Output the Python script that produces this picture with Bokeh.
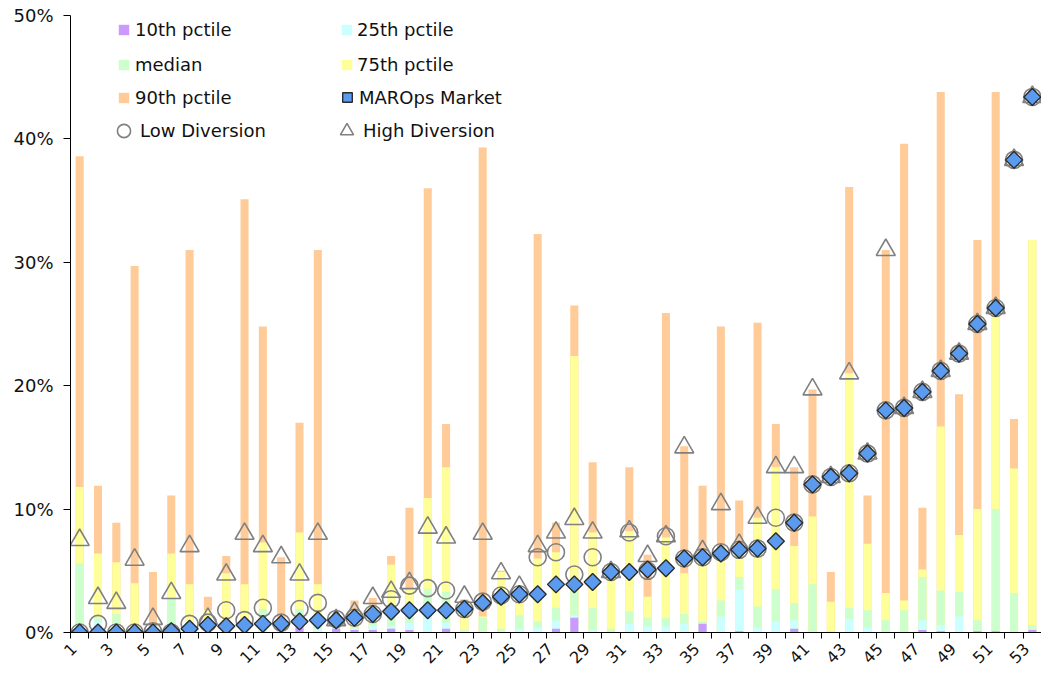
import math
from bokeh.plotting import figure
from bokeh.models import (Range1d, FixedTicker, PrintfTickFormatter, Legend,
                          LegendItem, ColumnDataSource)
from bokeh.embed import file_html
from bokeh.resources import INLINE

# ---------------- data (percent) ----------------
categories = list(range(1, 54))

p90 = [38.6, 11.9, 8.9, 29.7, 4.9, 11.1, 31.0, 2.9, 6.2, 35.1,
       24.8, 6.1, 17.0, 31.0, 0.8, 2.6, 2.8, 6.2, 10.1, 36.0,
       16.9, 2.7, 39.3, 5.0, 3.5, 32.3, 8.9, 26.5, 13.8, 5.0,
       13.4, 6.3, 25.9, 15.1, 11.9, 24.8, 10.7, 25.1, 16.9, 13.4,
       19.7, 4.9, 36.1, 11.1, 31.0, 39.6, 10.1, 43.8, 19.3, 31.8,
       43.8, 17.3, 31.8]

p75 = [11.8, 6.4, 5.7, 4.0, 0.5, 6.4, 3.9, 1.8, 4.8, 3.9,
       7.3, 0.8, 8.1, 3.9, 0.6, 1.0, 2.2, 5.5, 3.6, 10.9,
       13.4, 2.1, 1.3, 4.9, 3.2, 6.0, 6.5, 22.4, 8.1, 4.7,
       8.2, 2.9, 7.7, 4.8, 6.0, 6.0, 6.2, 9.3, 13.4, 7.0,
       9.4, 2.5, 21.0, 7.2, 3.2, 2.6, 5.1, 16.7, 7.9, 10.0,
       25.8, 13.3, 31.8]

median = [5.6, 1.2, 1.5, 0.3, 0.2, 2.7, 0.5, 0.3, 0.5, 0.5,
          1.9, 0.3, 1.9, 1.5, 0.4, 0.5, 1.0, 1.8, 2.0, 3.5,
          3.3, 0.2, 1.2, 0.3, 1.4, 0.9, 2.0, 4.5, 2.0, 0.3,
          1.7, 1.2, 1.2, 1.5, 0.9, 2.6, 4.5, 2.1, 3.5, 2.4,
          3.9, 0.1, 2.0, 1.8, 1.0, 1.8, 4.5, 3.4, 3.3, 1.0,
          10.0, 3.2, 0.6]

p25 = [0.3, 0.9, 0.8, 0.0, 0.0, 0.2, 0.2, 0.1, 0.1, 0.1,
       0.4, 0.1, 0.6, 0.3, 0.35, 0.3, 0.6, 0.5, 0.8, 1.9,
       0.8, 0.1, 0.1, 0.1, 0.3, 0.4, 1.0, 1.4, 0.2, 0.0,
       0.7, 0.5, 0.5, 0.7, 0.8, 1.3, 3.5, 0.4, 0.9, 1.0,
       0.1, 0.0, 1.1, 0.4, 0.0, 0.0, 1.0, 0.6, 1.3, 0.1,
       0.1, 0.0, 0.2]

p10 = [0.0, 0.5, 0.0, 0.0, 0.0, 0.0, 0.0, 0.0, 0.0, 0.0,
       0.0, 0.0, 0.4, 0.0, 0.3, 0.2, 0.2, 0.3, 0.2, 0.0,
       0.3, 0.0, 0.0, 0.0, 0.0, 0.0, 0.3, 1.2, 0.0, 0.0,
       0.0, 0.0, 0.0, 0.0, 0.7, 0.0, 0.1, 0.0, 0.0, 0.3,
       0.0, 0.0, 0.0, 0.0, 0.0, 0.0, 0.2, 0.1, 0.0, 0.1,
       0.1, 0.0, 0.2]

market = [0.0, 0.0, 0.0, 0.0, 0.0, 0.1, 0.3, 0.6, 0.5, 0.6,
          0.7, 0.7, 0.9, 1.0, 1.0, 1.2, 1.5, 1.7, 1.8, 1.8,
          1.8, 1.9, 2.4, 2.9, 3.1, 3.1, 3.9, 3.9, 4.1, 4.9,
          4.9, 5.1, 5.2, 6.0, 6.1, 6.4, 6.7, 6.8, 7.4, 8.9,
          12.0, 12.6, 12.9, 14.5, 18.0, 18.2, 19.5, 21.2, 22.6, 25.0,
          26.3, 38.3, 43.4]

low_div = [0.0, 0.7, 0.0, 0.0, 0.1, 0.0, 0.7, 0.8, 1.8, 1.0,
           2.0, 0.8, 1.9, 2.4, 1.1, 1.2, 1.5, 2.7, 3.8, 3.6,
           3.4, 1.9, 2.5, 3.0, 3.1, 6.1, 6.5, 4.7, 6.1, 4.9,
           8.1, 5.0, 7.8, 6.0, 6.1, 6.5, 6.7, 6.8, 9.3, 8.9,
           12.0, 12.6, 12.9, 14.5, 18.0, 18.2, 19.5, 21.2, 22.6, 25.0,
           26.3, 38.3, 43.4]

high_div = [7.5, 2.8, 2.4, 5.9, 1.1, 3.2, 7.0, 1.1, 4.7, 8.0,
            7.0, 6.1, 4.7, 8.0, 1.0, 1.6, 2.8, 3.3, 4.0, 8.5,
            7.7, 2.9, 8.0, 4.8, 3.7, 7.0, 8.1, 9.2, 8.1, 4.9,
            8.2, 6.2, 7.8, 15.0, 6.6, 10.4, 7.1, 9.3, 13.4, 13.4,
            19.7, 12.6, 21.0, 14.5, 31.0, 18.2, 19.5, 21.2, 22.6, 25.0,
            26.3, 38.3, 43.4]

y_ticks = [0, 10, 20, 30, 40, 50]
x_label_ticks = list(range(1, 54, 2))

src = ColumnDataSource(dict(x=categories, p90=p90, p75=p75, median=median,
                            p25=p25, p10=p10, market=market,
                            low=low_div, high=high_div))

FONT = "DejaVu Sans"
TXT = "#111111"
FS = "18px"

p = figure(width=1041, height=677, output_backend="svg", toolbar_location=None,
           x_range=Range1d(0.5, 53.5), y_range=Range1d(0, 50),
           min_border_left=70, min_border_right=0, min_border_top=15,
           min_border_bottom=45)
p.outline_line_color = None
p.xgrid.visible = False
p.ygrid.visible = False
p.background_fill_color = "white"
p.border_fill_color = "white"

W = 0.44
r90 = p.vbar(x="x", top="p90", bottom=0, width=W, source=src, fill_color="#FFCC99", line_color=None)
r75 = p.vbar(x="x", top="p75", bottom=0, width=W, source=src, fill_color="#FFFF99", line_color=None)
rmed = p.vbar(x="x", top="median", bottom=0, width=W, source=src, fill_color="#CCFFCC", line_color=None)
r25 = p.vbar(x="x", top="p25", bottom=0, width=W, source=src, fill_color="#CCFFFF", line_color=None)
r10 = p.vbar(x="x", top="p10", bottom=0, width=W, source=src, fill_color="#CC99FF", line_color=None)

rlow = p.scatter(x="x", y="low", source=src, marker="circle", size=17,
                 fill_color=None, line_color="#808080", line_width=1.6)
rhigh = p.scatter(x="x", y="high", source=src, marker="triangle", size=19,
                  fill_color=None, line_color="#808080", line_width=1.6)
rmkt = p.scatter(x="x", y="market", source=src, marker="square", angle=math.pi / 4,
                 size=12, fill_color="#5A9BEF", line_color="#2B2B2B", line_width=1.4)

# axes
xa = p.xaxis[0]
xa.ticker = FixedTicker(ticks=x_label_ticks,
                        minor_ticks=[c - 0.5 for c in categories] + [53.5])
xa.major_tick_in = 0
xa.major_tick_out = 0
xa.minor_tick_in = 0
xa.minor_tick_out = 6
xa.minor_tick_line_color = "black"
xa.axis_line_color = "black"
xa.major_label_orientation = math.pi / 4
xa.major_label_text_font = FONT
xa.major_label_text_font_size = "16px"
xa.major_label_text_color = TXT
xa.major_label_standoff = 2
# an en space after each label slides the rotated text back along its own
# direction, so its end sits just left of the tick, as in the reference
xa.major_label_overrides = {t: f"{t}\u2002" for t in x_label_ticks}

ya = p.yaxis[0]
ya.ticker = FixedTicker(ticks=y_ticks)
ya.formatter = PrintfTickFormatter(format="%d%%")
ya.major_tick_in = 0
ya.major_tick_out = 7
ya.minor_tick_line_color = None
ya.axis_line_color = "black"
ya.major_tick_line_color = "black"
ya.major_label_text_font = FONT
ya.major_label_text_font_size = FS
ya.major_label_text_color = TXT
ya.major_label_standoff = 10

FRAME_LEFT, FRAME_BOTTOM = 70, 632


def make_legend(item, glyph, cx, cy, text_x, item_h=24):
    h = max(glyph, item_h)
    gx0 = int(math.floor(cx - glyph / 2 + 0.5))
    loc = (gx0 - FRAME_LEFT, int(round(FRAME_BOTTOM - (cy + h / 2))))
    lg = Legend(items=[item], location=loc, orientation="vertical")
    lg.border_line_color = None
    lg.background_fill_alpha = 0
    lg.padding = 0
    lg.margin = 0
    lg.spacing = 0
    lg.glyph_width = glyph
    lg.glyph_height = glyph
    lg.label_height = h
    lg.label_standoff = int(round(text_x - (gx0 + glyph)))
    lg.label_text_font = FONT
    lg.label_text_font_size = FS
    lg.label_text_color = TXT
    lg.label_text_baseline = "middle"
    return lg


COL_GX = [123.5, 346.5]   # glyph centres
COL_TX = [135, 357]       # label starts
ROW_Y = [29, 63.5, 97, 130.5]

entries = [
    ("10th pctile", r10, 13, 0, 0),
    ("25th pctile", r25, 13, 0, 1),
    ("median", rmed, 13, 1, 0),
    ("75th pctile", r75, 13, 1, 1),
    ("90th pctile", r90, 13, 2, 0),
    ("MAROps Market", rmkt, 24, 2, 1),
    ("Low Diversion", rlow, 33, 3, 0),
    ("High Diversion", rhigh, 33, 3, 1),
]
for label, rend, g, row, col in entries:
    p.add_layout(make_legend(LegendItem(label=label, renderers=[rend]), g,
                             COL_GX[col], ROW_Y[row], COL_TX[col]), "center")

open("out.html", "w").write(file_html(p, INLINE))
